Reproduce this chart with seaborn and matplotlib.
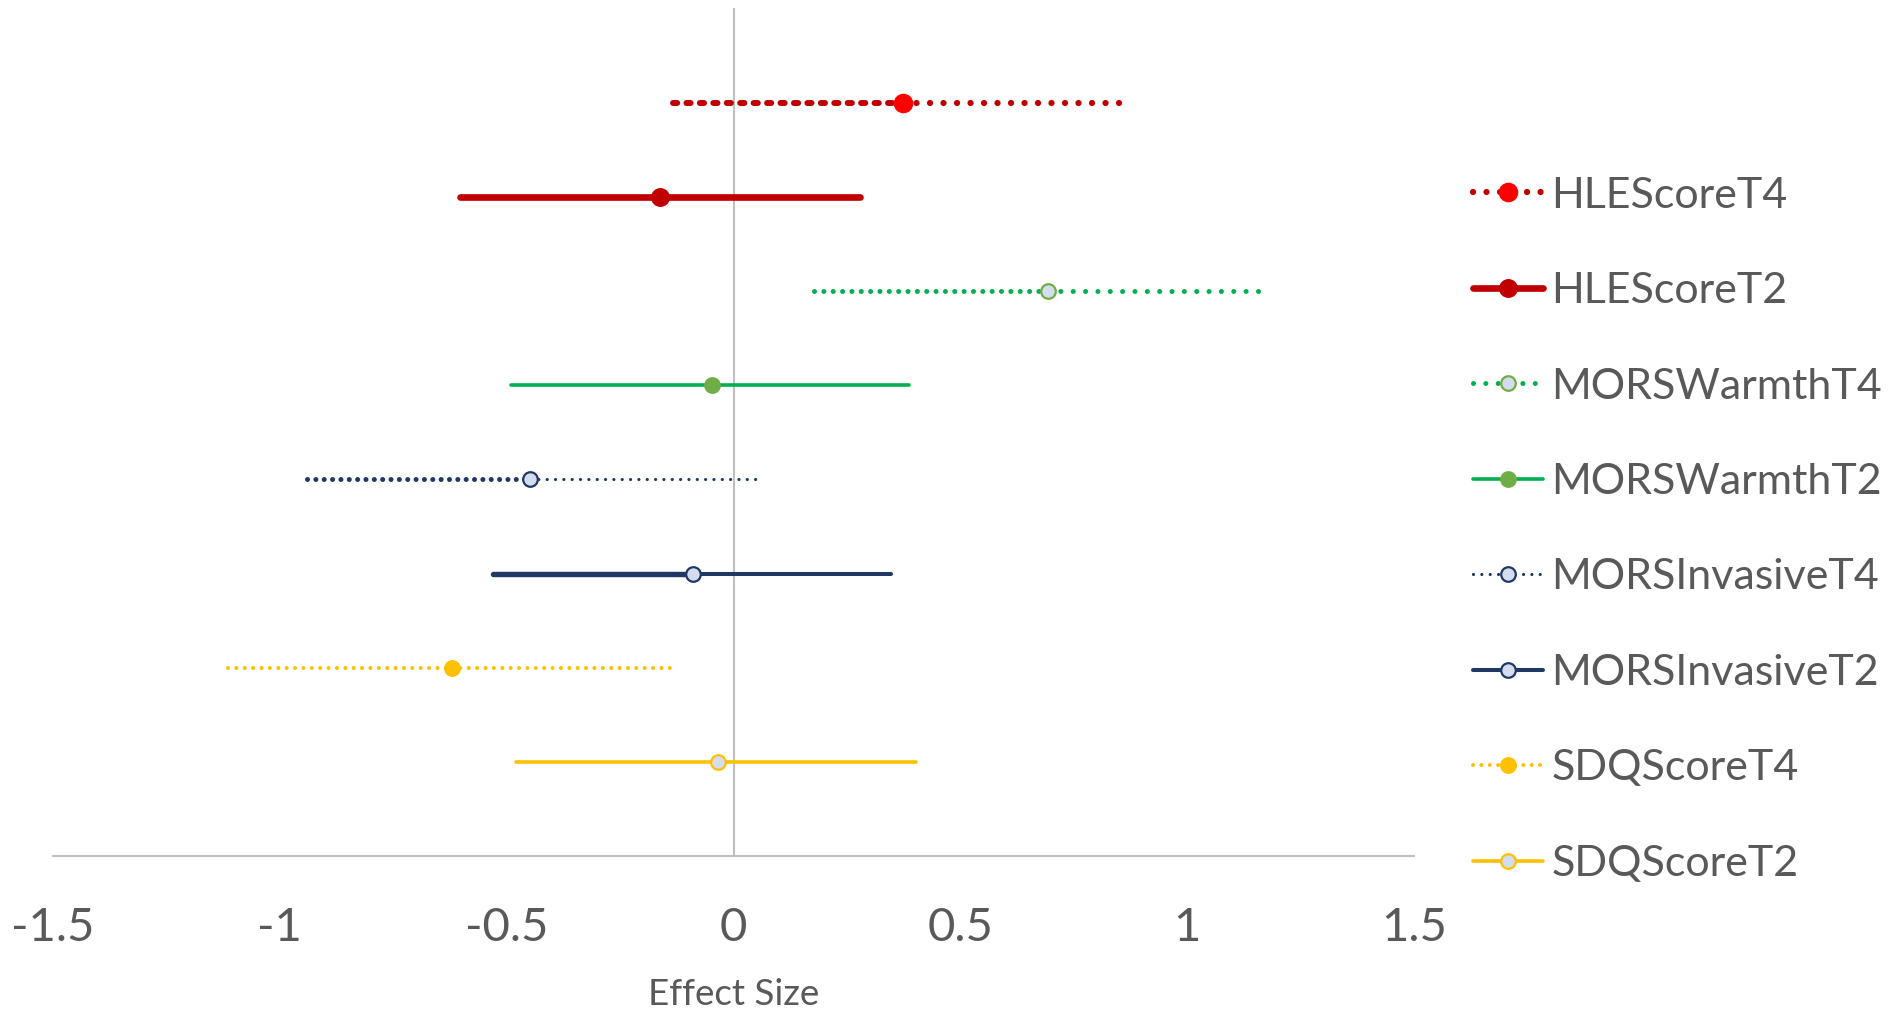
import matplotlib
matplotlib.use("Agg")
import matplotlib.pyplot as plt
from matplotlib.lines import Line2D
import pandas as pd
import seaborn as sns


LABELS = [
    "HLEScoreT4",
    "HLEScoreT2",
    "MORSWarmthT4",
    "MORSWarmthT2",
    "MORSInvasiveT4",
    "MORSInvasiveT2",
    "SDQScoreT4",
    "SDQScoreT2",
]
EFFECT = [0.373, -0.161, 0.694, -0.048, -0.448, -0.089, -0.620, -0.035]
LOWER = [-0.133, -0.604, 0.177, -0.490, -0.941, -0.530, -1.115, -0.479]
UPPER = [0.866, 0.278, 1.174, 0.386, 0.051, 0.346, -0.127, 0.402]
XTICKS = [-1.5, -1, -0.5, 0, 0.5, 1, 1.5]
XTICK_LABELS = ["-1.5", "-1", "-0.5", "0", "0.5", "1", "1.5"]

RED, DARK_RED = "#FF0000", "#C00000"
GREEN, LEAF = "#00B050", "#70AD47"
NAVY = "#203864"
GOLD = "#FFC000"
PALE = "#D3DDEF"
GREY = "#BFBFBF"
TEXT = "#595959"

# per row: colour, left/right widths and dash styles, marker face/edge/size
STYLES = [
    dict(color=DARK_RED, lwl=4.3, lwr=4.5, left=(0, (0.7, 1.55)), right=(0, (0.01, 2.15)),
         face=RED, edge=RED, ms=12.5),
    dict(color=DARK_RED, lwl=4.8, lwr=4.8, left="-", right="-",
         face=DARK_RED, edge=DARK_RED, ms=12),
    dict(color=GREEN, lwl=3.6, lwr=3.6, left=(0, (0.01, 1.86)), right=(0, (0.01, 2.46)),
         face=PALE, edge=LEAF, ms=10.5),
    dict(color=GREEN, lwl=2.6, lwr=2.6, left="-", right="-",
         face=LEAF, edge=LEAF, ms=10.5),
    dict(color=NAVY, lwl=3.6, lwr=2.3, left=(0, (0.01, 1.66)), right=(0, (0.01, 2.6)),
         face=PALE, edge=NAVY, ms=10.5),
    dict(color=NAVY, lwl=3.9, lwr=2.9, left="-", right="-",
         face=PALE, edge=NAVY, ms=10.5),
    dict(color=GOLD, lwl=2.9, lwr=2.9, left=(0, (0.01, 2.07)), right=(0, (0.01, 2.07)),
         face=GOLD, edge=GOLD, ms=10.5),
    dict(color=GOLD, lwl=2.6, lwr=2.6, left="-", right="-",
         face=PALE, edge=GOLD, ms=10.5),
]


def main() -> None:
    sns.set_theme(style="white")
    plt.rcParams["font.family"] = ["Lato", "DejaVu Sans"]

    df = pd.DataFrame({"label": LABELS, "effect": EFFECT, "lower": LOWER, "upper": UPPER})
    df["row"] = list(range(len(df), 0, -1))

    fig = plt.figure(figsize=(18.93, 10.09), dpi=100)
    ax = fig.add_axes([0.028, 0.1516, 0.719, 0.840])

    ax.axvline(0, color=GREY, lw=1.5, zorder=1)

    handles = []
    for (_, r), st in zip(df.iterrows(), STYLES):
        ax.plot([r["lower"], r["effect"]], [r["row"], r["row"]], color=st["color"],
                lw=st["lwl"], ls=st["left"], dash_capstyle="round",
                solid_capstyle="round", zorder=2)
        ax.plot([r["effect"], r["upper"]], [r["row"], r["row"]], color=st["color"],
                lw=st["lwr"], ls=st["right"], dash_capstyle="round",
                solid_capstyle="round", zorder=2)
        ax.plot([r["effect"]], [r["row"]], marker="o", ms=st["ms"], mfc=st["face"],
                mec=st["edge"], mew=1.6, ls="none", zorder=3)
        handles.append(Line2D([], [], color=st["color"], lw=st["lwr"], ls=st["right"],
                              dash_capstyle="round", solid_capstyle="round",
                              marker="o", ms=st["ms"], mfc=st["face"], mec=st["edge"],
                              mew=1.6))

    ax.set_xlim(-1.5, 1.5)
    ax.set_ylim(0, len(df) + 1)
    ax.set_yticks([])
    ax.set_xticks(XTICKS)
    ax.set_xticklabels(XTICK_LABELS)
    ax.tick_params(axis="x", length=0, pad=37, labelsize=34, labelcolor=TEXT)
    for side in ["top", "right", "left"]:
        ax.spines[side].set_visible(False)
    ax.spines["bottom"].set_color(GREY)
    ax.spines["bottom"].set_linewidth(1.5)

    ax.set_xlabel("Effect Size", fontsize=26.5, color=TEXT)
    ax.xaxis.set_label_coords(0.5, -0.144)

    fig.legend(handles, LABELS, loc="center left", bbox_to_anchor=(0.778, 0.475),
               frameon=False, fontsize=31, labelcolor=TEXT, handlelength=1.63,
               handletextpad=0.2, labelspacing=1.335, borderpad=0, borderaxespad=0,
               numpoints=1)

    fig.savefig("out.png", dpi=100)
    plt.close(fig)


if __name__ == "__main__":
    main()
